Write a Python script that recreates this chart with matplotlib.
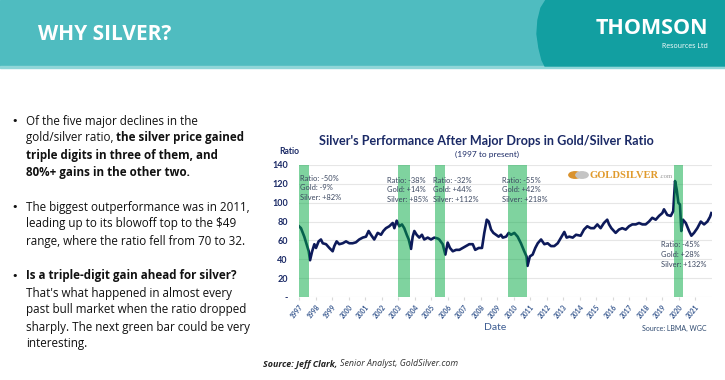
import matplotlib
matplotlib.use('Agg')
import matplotlib.pyplot as plt
from matplotlib.patches import Rectangle, Polygon, Circle

# gold/silver ratio (decimal year, ratio)
years = [1997.00, 1997.12, 1997.32, 1997.53, 1997.59, 1997.67, 1997.79, 1997.93,
         1998.03, 1998.19, 1998.33, 1998.44, 1998.64, 1998.84, 1999.04, 1999.14,
         1999.28, 1999.44, 1999.65, 1999.85, 2000.05, 2000.25, 2000.45, 2000.65,
         2000.86, 2001.06, 2001.22, 2001.36, 2001.56, 2001.77, 2001.97, 2002.11,
         2002.27, 2002.47, 2002.68, 2002.78, 2002.92, 2003.08, 2003.24, 2003.38,
         2003.53, 2003.65, 2003.79, 2003.89, 2003.99, 2004.13, 2004.29, 2004.45,
         2004.59, 2004.80, 2005.00, 2005.20, 2005.41, 2005.50, 2005.71, 2005.87,
         2006.01, 2006.15, 2006.32, 2006.52, 2006.72, 2006.92, 2007.12, 2007.32,
         2007.53, 2007.68, 2007.89, 2008.09, 2008.23, 2008.38, 2008.50, 2008.64,
         2008.78, 2008.94, 2009.10, 2009.24, 2009.35, 2009.55, 2009.71, 2009.85,
         2010.05, 2010.25, 2010.45, 2010.65, 2010.79, 2010.85, 2010.99, 2011.16,
         2011.32, 2011.47, 2011.67, 2011.87, 2012.07, 2012.27, 2012.47, 2012.68,
         2012.88, 2013.08, 2013.22, 2013.38, 2013.59, 2013.79, 2014.07, 2014.27,
         2014.47, 2014.68, 2014.88, 2015.08, 2015.28, 2015.48, 2015.68, 2015.79,
         2015.93, 2016.09, 2016.19, 2016.39, 2016.59, 2016.80, 2017.00, 2017.20,
         2017.41, 2017.61, 2017.81, 2018.01, 2018.21, 2018.41, 2018.62, 2018.82,
         2019.02, 2019.12, 2019.32, 2019.53, 2019.68, 2019.79, 2019.89, 2019.99,
         2020.09, 2020.17, 2020.27, 2020.44, 2020.64, 2020.78, 2020.94, 2021.14,
         2021.35, 2021.55, 2021.75, 2021.91, 2021.99]
ratio = [75, 73, 64, 52, 48.5, 39, 48, 56,
         52, 59, 61, 57, 56, 52, 48.5, 54,
         59, 56, 57, 59, 57, 57, 58, 61,
         63, 64, 70, 66, 61, 68, 66, 70,
         73, 75, 78.5, 73, 81, 75, 77, 73,
         66, 61, 51, 64, 70, 66, 63, 66,
         61, 63, 61, 63, 62, 61, 56, 45,
         57.7, 52, 48.5, 50, 50, 52, 54, 56,
         56, 50, 52, 52, 68, 82, 80, 71.5,
         68, 66, 64, 66, 63, 64, 68, 66,
         68, 64, 57, 48.5, 43, 33, 43, 45,
         52, 57, 61, 56, 57, 54, 54, 57,
         63, 69, 63, 64, 63, 66, 65, 71.5,
         75, 73, 73, 77, 73, 78.5, 82, 77,
         73, 70, 68, 71.5, 73, 71.5, 75, 77,
         77, 78.5, 77, 77, 80, 84, 82, 86,
         89, 93, 87, 86, 91, 123, 114, 100,
         98, 70, 82, 78.5, 70, 65, 68, 73,
         80, 77, 80, 85, 89]

# the five green bars (major drops in the ratio)
bar_start = [1997.00, 2002.98, 2005.27, 2009.68, 2019.73]
bar_end = [1997.61, 2003.73, 2005.82, 2010.82, 2020.25]
ann_ratio = ['-50%', '-38%', '-32%', '-55%', '-45%']
ann_gold = ['-9%', '+14%', '+44%', '+42%', '+28%']
ann_silver = ['+82%', '+85%', '+112%', '+218%', '+132%']
# where each annotation block sits (x in years, top in ratio units)
ann_x = [1997.06, 2002.32, 2005.10, 2009.28, 2018.96]
ann_top = [129.9, 127.8, 127.8, 127.8, 58.9]

tick_years = list(range(1997, 2022))
y_ticks = [0, 20, 40, 60, 80, 100, 120, 140]
y_labels = ['-' if v == 0 else str(v) for v in y_ticks]

NAVY = '#1b2a66'
W, H = 725, 380


def fx(px):
    return px / W


def fy(py):
    return 1 - py / H


fig = plt.figure(figsize=(7.25, 3.8), dpi=100)
fig.patch.set_facecolor('white')
renderer = fig.canvas.get_renderer()
inv = fig.transFigure.inverted()

# header band
fig.patches.append(Rectangle((0, fy(66)), 1, 66 / H, transform=fig.transFigure,
                             color='#4fbcc0', zorder=0))
fig.patches.append(Rectangle((0, fy(68)), 1, 2 / H, transform=fig.transFigure,
                             color='#8fd6d8', zorder=0))
edge = [(546, 0), (541, 8), (538, 20), (537, 34), (539, 48), (542, 60), (545, 66),
        (725, 66), (725, 0)]
fig.patches.append(Polygon([(fx(a), fy(b)) for a, b in edge], closed=True,
                           transform=fig.transFigure, color='#129fa1', zorder=0))
fig.text(fx(38), fy(34), 'WHY SILVER?', color='white', fontsize=15,
         fontweight='bold', family='Open Sans', va='center', ha='left')
fig.text(fx(708), fy(29), 'THOMSON', color='white', fontsize=15.5,
         fontweight='bold', family='Open Sans', va='center', ha='right')
fig.text(fx(708), fy(46), 'Resources Ltd', color='white', fontsize=5,
         family='Open Sans', va='center', ha='right')

# bullet text, mixed regular / bold runs per line
bullets = [
    (121, [('Of the five major declines in the', 'normal')]),
    (138, [('gold/silver ratio, ', 'normal'), ('the silver price gained', 'bold')]),
    (155, [('triple digits in three of them, and', 'bold')]),
    (172, [('80%+ gains in the other two.', 'bold')]),
    (207, [('The biggest outperformance was in 2011,', 'normal')]),
    (224, [('leading up to its blowoff top to the $49', 'normal')]),
    (241, [('range, where the ratio fell from 70 to 32.', 'normal')]),
    (276, [('Is a triple-digit gain ahead for silver?', 'bold')]),
    (293, [("That's what happened in almost every", 'normal')]),
    (310, [('past bull market when the ratio dropped', 'normal')]),
    (327, [('sharply. The next green bar could be very', 'normal')]),
    (344, [('interesting.', 'normal')]),
]
for py in (121, 207, 276):
    fig.text(fx(11), fy(py), '•', fontsize=8, color='#111111', va='center',
             family='DejaVu Sans')
for py, runs in bullets:
    x = fx(26)
    for txt, wt in runs:
        t = fig.text(x, fy(py), txt, fontsize=8.4, fontweight=wt,
                     family='Open Sans', color='#111111', va='center', ha='left')
        x = inv.transform((t.get_window_extent(renderer).x1, 0))[0]

# chart
ax = fig.add_axes([fx(299), fy(297), fx(712) - fx(299), (297 - 165) / H])
ax.plot(years, ratio, color='#0d1a5a', lw=1.9, zorder=2)
for s, e in zip(bar_start, bar_end):
    ax.axvspan(s, e, color='#01a941', alpha=0.5, lw=0, zorder=3)
ax.set_xlim(1997, 2022.03)
ax.set_ylim(0, 140)
ax.set_yticks(y_ticks)
ax.set_yticklabels(y_labels, fontsize=6.5, fontweight='bold', color=NAVY,
                   family='Lato')
ax.set_xticks(tick_years)
ax.set_xticklabels([str(y) for y in tick_years], rotation=50, ha='right',
                   rotation_mode='anchor', fontsize=4.8, fontweight='bold',
                   color='#3a5a90', family='Lato')
ax.tick_params(axis='y', length=0, pad=8)
ax.tick_params(axis='x', length=2.5, color='#d9d9d9', pad=2)
ax.grid(axis='y', color='#e6e6e6', lw=0.8, zorder=0)
for sp in ax.spines.values():
    sp.set_visible(False)

for i in range(len(ann_x)):
    block = 'Ratio: %s\nGold: %s\nSilver: %s' % (ann_ratio[i], ann_gold[i],
                                                  ann_silver[i])
    ax.text(ann_x[i], ann_top[i], block, fontsize=5.4, color='#3b4760',
            family='Lato', va='top', ha='left', linespacing=1.45, zorder=4)

# GoldSilver logo
for cx, col in ((575, '#d9922e'), (582, '#c4c4c4')):
    fig.patches.append(Circle((fx(cx), fy(175)), 0.0085, transform=fig.transFigure,
                              color=col, zorder=5))
t = fig.text(fx(589), fy(175), 'GOLDSILVER', fontsize=7.6, fontweight='bold',
             family='Liberation Serif', color='#e09a2c', va='center', ha='left')
x1 = inv.transform((t.get_window_extent(renderer).x1, 0))[0]
fig.text(x1 + fx(1), fy(176.5), '.com', fontsize=4.8, family='Liberation Serif',
         color='#999999', va='center', ha='left')

fig.text(fx(486), fy(141), "Silver's Performance After Major Drops in Gold/Silver Ratio",
         fontsize=9.1, fontweight='bold', family='Lato', color=NAVY,
         ha='center', va='center')
fig.text(fx(487), fy(154), '(1997 to present)', fontsize=6, family='Lato',
         color=NAVY, ha='center', va='center')
fig.text(fx(279), fy(152), 'Ratio', fontsize=6.2, fontweight='bold', family='Lato',
         color=NAVY, ha='left', va='center')
fig.text(fx(495), fy(327), 'Date', fontsize=7.5, family='Lato', color='#3a5a90',
         ha='center', va='center')
fig.text(fx(707), fy(328), 'Source: LBMA, WGC', fontsize=5, family='Lato',
         color='#2f4a70', ha='right', va='center')

# source line at the bottom
t = fig.text(fx(263), fy(364), 'Source: Jeff Clark,', fontsize=6.4, fontweight='bold',
             style='italic', family='Open Sans', color='#222222', va='center')
x1 = inv.transform((t.get_window_extent(renderer).x1, 0))[0]
fig.text(x1 + fx(3), fy(364), 'Senior Analyst, GoldSilver.com', fontsize=6.4,
         style='italic', family='Open Sans', color='#333333', va='center')

fig.savefig('out.png', dpi=100)
